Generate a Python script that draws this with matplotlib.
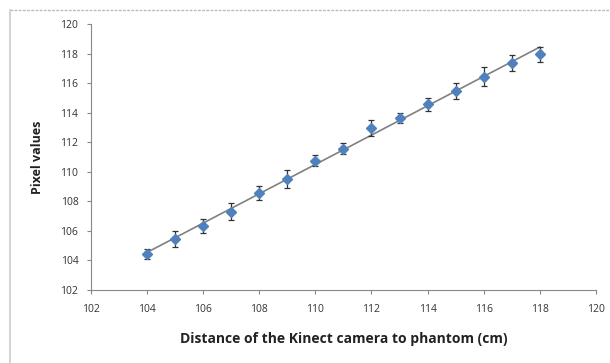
import numpy as np
import matplotlib.pyplot as plt
from matplotlib.lines import Line2D

distance = [104, 105, 106, 107, 108, 109, 110, 111, 112, 113, 114, 115, 116, 117, 118]
pixel = [104.44, 105.45, 106.35, 107.3, 108.54, 109.51, 110.75, 111.56, 112.98,
         113.66, 114.58, 115.49, 116.43, 117.36, 117.95]
err = [0.35, 0.53, 0.46, 0.59, 0.47, 0.58, 0.36, 0.36, 0.53, 0.34, 0.44, 0.54,
       0.63, 0.56, 0.52]

xticks = np.arange(102, 121, 2)
yticks = np.arange(102, 121, 2)

plt.rcParams['font.family'] = ['Open Sans', 'DejaVu Sans']

fig = plt.figure(figsize=(6.1, 3.63), dpi=100)
ax = fig.add_axes([0.149, 0.201, 0.828, 0.733])

# linear trend line
k, m = np.polyfit(distance, pixel, 1)
xl = np.array([distance[0], distance[-1]])
ax.plot(xl, k * xl + m, color='#808080', lw=1.2, zorder=1)

ax.errorbar(distance, pixel, yerr=err, fmt='D', color='#4F81BD', ms=5.5,
            ecolor='#333333', elinewidth=0.9, capsize=2.5, capthick=0.9, zorder=2)

ax.set_xlim(102, 120)
ax.set_ylim(102, 120)
ax.set_xticks(xticks)
ax.set_yticks(yticks)
ax.tick_params(labelsize=7.5, length=3, width=0.8)
ax.tick_params(axis='x', colors='#888888', labelcolor='#333333', pad=7)
ax.tick_params(axis='y', colors='#888888', labelcolor='#333333', pad=6)
for s in ['top', 'right']:
    ax.spines[s].set_visible(False)
for s in ['left', 'bottom']:
    ax.spines[s].set_color('#888888')
    ax.spines[s].set_linewidth(0.8)

ax.set_xlabel('Distance of the Kinect camera to phantom (cm)', fontsize=10,
              fontweight='bold', color='#222222', labelpad=12)
ax.set_ylabel('Pixel values', fontsize=9, fontweight='bold', color='#222222',
              labelpad=12)

# frame of the chart area
fig.add_artist(Line2D([0.016, 1.0], [0.972, 0.972], color='#bbbbbb', lw=1,
                      ls=(0, (2, 1))))
fig.add_artist(Line2D([0.016, 0.016], [0.0, 0.972], color='#cccccc', lw=1.2))

fig.savefig('out.png', dpi=100, facecolor='white')
